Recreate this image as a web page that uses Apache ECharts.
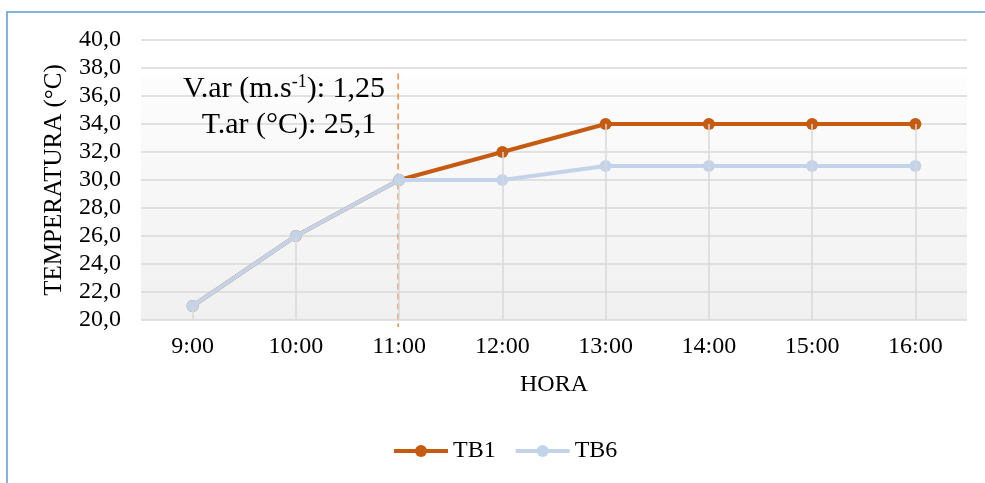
<!DOCTYPE html>
<html>
<head>
<meta charset="utf-8">
<script src="https://cdn.jsdelivr.net/npm/echarts@6/dist/echarts.min.js"></script>
<style>
  html, body { margin: 0; padding: 0; background: #ffffff; }
  #chart { width: 985px; height: 483px; }
</style>
</head>
<body>
<div id="chart"></div>
<script>
// Hourly temperature readings
const hours = ['9:00', '10:00', '11:00', '12:00', '13:00', '14:00', '15:00', '16:00'];
const tb1 = [21, 26, 30, 32, 34, 34, 34, 34];
const tb6 = [21, 26, 30, 30, 31, 31, 31, 31];
const yMin = 20, yMax = 40, yStep = 2;
// Vertical dashed marker: hour and the temperature span it covers
const eventHour = '11:00';
const eventSpan = [37.6, 19.5];
const airSpeed = '1,25';
const airTemp = '25,1';

const FONT = '"Liberation Serif", "Times New Roman", serif';
const ORANGE = '#c55a11';
const BLUE = '#c3d4ea';

// Drop lines from the highest reading at each hour down to the axis floor
const dropLines = hours.map((h, i) => [
  { coord: [h, Math.max(tb1[i], tb6[i])] },
  { coord: [h, yMin] }
]);

const chart = echarts.init(document.getElementById('chart'));
chart.setOption({
  animation: false,
  backgroundColor: '#ffffff',
  grid: {
    left: 141, right: 18, top: 40, bottom: 163,
    show: true, borderWidth: 0,
    backgroundColor: {
      type: 'linear', x: 0, y: 0, x2: 0, y2: 1,
      colorStops: [
        { offset: 0, color: '#ffffff' },
        { offset: 0.125, color: '#ffffff' },
        { offset: 0.13, color: '#fdfdfd' },
        { offset: 1, color: '#f0f0f0' }
      ]
    }
  },
  xAxis: {
    type: 'category',
    data: hours,
    boundaryGap: true,
    name: 'HORA',
    nameLocation: 'middle',
    nameGap: 53,
    nameTextStyle: { fontFamily: FONT, fontSize: 24, color: '#000' },
    axisLine: { show: false },
    axisTick: { show: false },
    axisLabel: { fontFamily: FONT, fontSize: 24, color: '#000', margin: 15 },
    splitLine: { show: false }
  },
  yAxis: {
    type: 'value',
    min: yMin, max: yMax, interval: yStep,
    name: 'TEMPERATURA (°C)',
    nameLocation: 'middle',
    nameGap: 74,
    nameTextStyle: { fontFamily: FONT, fontSize: 25, color: '#000' },
    axisLine: { show: false },
    axisTick: { show: false },
    axisLabel: {
      fontFamily: FONT, fontSize: 24, color: '#000', margin: 20,
      formatter: v => v.toFixed(1).replace('.', ',')
    },
    splitLine: { lineStyle: { color: '#d9d9d9', width: 1.5 } }
  },
  legend: {
    top: 434,
    left: 387,
    itemWidth: 54,
    itemHeight: 15,
    itemGap: 18,
    lineStyle: { width: 4 },
    textStyle: { fontFamily: FONT, fontSize: 24, color: '#000' },
    data: ['TB1', 'TB6']
  },
  series: [
    {
      name: 'drop',
      type: 'line',
      data: [],
      silent: true,
      z: 1,
      markLine: {
        silent: true,
        symbol: 'none',
        label: { show: false },
        lineStyle: { color: '#d9d9d9', width: 1.5, type: 'solid' },
        data: dropLines
      }
    },
    {
      name: 'TB1',
      type: 'line',
      data: tb1,
      z: 3,
      color: ORANGE,
      symbol: 'circle',
      symbolSize: 12,
      lineStyle: { color: ORANGE, width: 4 },
      itemStyle: { color: ORANGE }
    },
    {
      name: 'TB6',
      type: 'line',
      data: tb6,
      z: 4,
      color: BLUE,
      symbol: 'circle',
      symbolSize: 12,
      lineStyle: { color: BLUE, width: 4 },
      itemStyle: { color: BLUE }
    }
  ]
});

// Dashed marker line placed through the chart's own scales
const pTop = chart.convertToPixel({ gridIndex: 0 }, [eventHour, eventSpan[0]]);
const pBot = chart.convertToPixel({ gridIndex: 0 }, [eventHour, eventSpan[1]]);
const xm = pTop[0] - 1;

chart.setOption({
  graphic: [
    {
      type: 'rect',
      z: 100,
      shape: { x: 7, y: 12, width: 1100, height: 600 },
      style: { fill: 'none', stroke: '#5b9bd5', lineWidth: 1.5 },
      silent: true
    },
    {
      type: 'line',
      z: 2,
      shape: { x1: xm, y1: pTop[1], x2: xm, y2: pBot[1] },
      style: { stroke: '#ee8a45', lineWidth: 1.5, lineDash: [6, 4] },
      silent: true
    },
    {
      type: 'text',
      z: 100,
      x: 284, y: 89,
      style: {
        text: '{b|V.ar (m.s}{s|-1}{b|): ' + airSpeed + '}',
        textAlign: 'center',
        textVerticalAlign: 'middle',
        fill: '#000',
        rich: {
          b: { fontFamily: FONT, fontSize: 30, color: '#000', lineHeight: 32 },
          s: { fontFamily: FONT, fontSize: 18, color: '#000', lineHeight: 32, verticalAlign: 'top', padding: [0, 0, 12, 0] }
        }
      }
    },
    {
      type: 'text',
      z: 100,
      x: 289, y: 125,
      style: {
        text: 'T.ar (°C): ' + airTemp,
        textAlign: 'center',
        textVerticalAlign: 'middle',
        fill: '#000',
        font: '30px ' + FONT
      }
    }
  ]
});
</script>
</body>
</html>
